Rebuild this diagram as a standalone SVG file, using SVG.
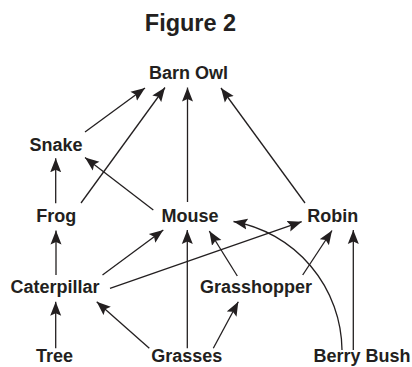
<svg xmlns="http://www.w3.org/2000/svg" width="412" height="367" viewBox="0 0 412 367">
<style>
text{font-family:"Liberation Sans",Arial,sans-serif;font-weight:bold;font-size:18px;fill:#231f20;text-anchor:middle}
.title{font-size:23.5px}
.c path,.c line{stroke:#231f20;stroke-width:1.3;fill:none;marker-end:url(#ah)}
</style>
<defs>
<marker id="ah" markerUnits="userSpaceOnUse" markerWidth="14" markerHeight="12" refX="14" refY="5.5" orient="auto" viewBox="0 0 14 11">
<path d="M0,0 L14,5.5 L0,11 L2.5,5.5 z" fill="#231f20"/>
</marker>
</defs>
<rect width="412" height="367" fill="#fff"/>
<text class="title" x="190.5" y="31">Figure 2</text>
<g id="barn-owl"><text x="188.5" y="79">Barn Owl</text></g>
<g id="snake"><text x="56" y="150.7">Snake</text></g>
<g id="frog"><text x="56.3" y="221.7">Frog</text></g>
<g id="mouse"><text x="190" y="221.7">Mouse</text></g>
<g id="robin"><text x="332.7" y="221.7">Robin</text></g>
<g id="caterpillar"><text x="55" y="293">Caterpillar</text></g>
<g id="grasshopper"><text x="256" y="293">Grasshopper</text></g>
<g id="tree"><text x="54.5" y="362">Tree</text></g>
<g id="grasses"><text x="186.7" y="362">Grasses</text></g>
<g id="berry-bush"><text x="362" y="362">Berry Bush</text></g>
<g id="connectors" class="c">
<line x1="85" y1="132" x2="145" y2="88"/>
<line x1="81" y1="203" x2="165" y2="87.5"/>
<line x1="187.5" y1="202" x2="187.5" y2="87.5"/>
<line x1="305" y1="203" x2="221" y2="88"/>
<line x1="55.7" y1="203.3" x2="55.7" y2="158.3"/>
<line x1="153.3" y1="210" x2="85" y2="157.5"/>
<line x1="56" y1="275" x2="56" y2="230.5"/>
<line x1="102.5" y1="275" x2="163.3" y2="230"/>
<line x1="187.3" y1="348.3" x2="187.3" y2="230"/>
<line x1="237.3" y1="276" x2="209.3" y2="231"/>
<line x1="110" y1="288.3" x2="301.7" y2="221.7"/>
<path d="M342,350 A132,132 0 0 0 233.5,221.5"/>
<line x1="302.7" y1="275" x2="332" y2="230.5"/>
<line x1="353.3" y1="350" x2="353.3" y2="230"/>
<line x1="55.7" y1="348.3" x2="55.7" y2="301.7"/>
<line x1="149.3" y1="348.3" x2="96.7" y2="301.7"/>
<line x1="213.3" y1="348.3" x2="238.3" y2="301.7"/>
</g>
</svg>
